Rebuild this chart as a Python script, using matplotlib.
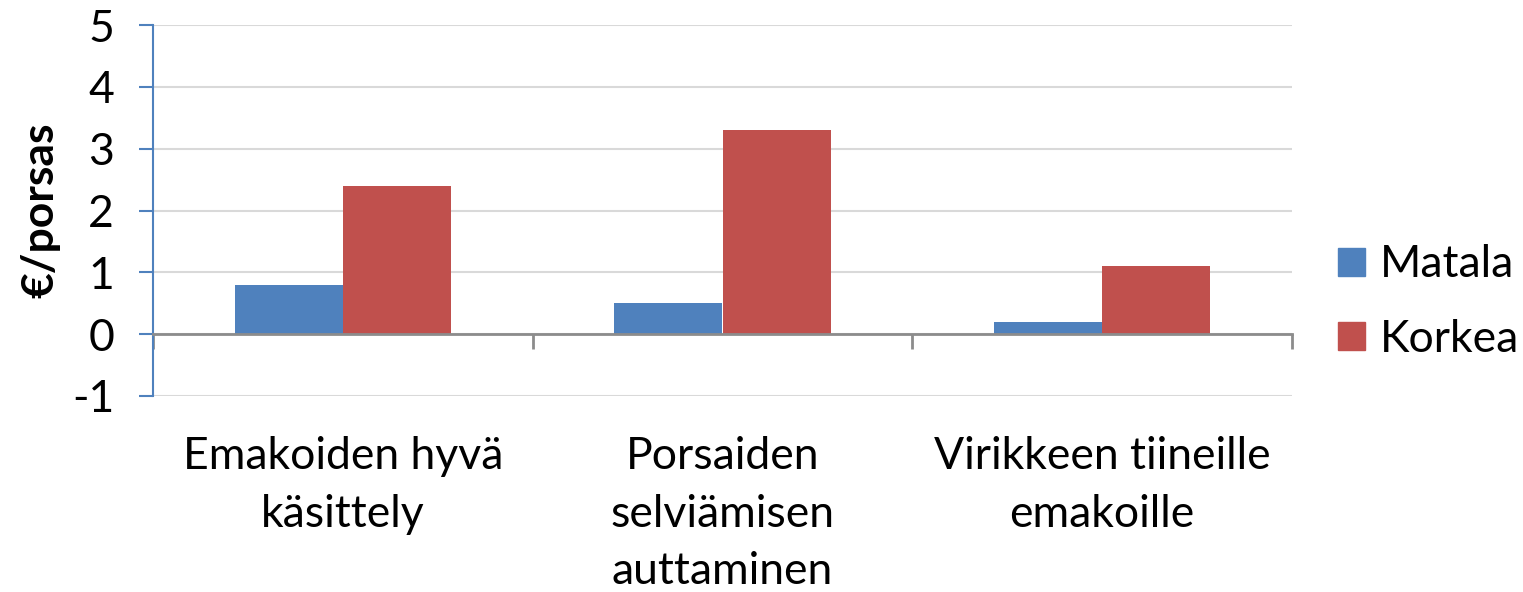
import matplotlib
matplotlib.use("Agg")
import matplotlib.pyplot as plt
import numpy as np
from matplotlib.patches import Patch

plt.rcParams['font.family'] = ['Lato', 'DejaVu Sans']
plt.rcParams['axes.unicode_minus'] = False

# data
categories = ["Emakoiden hyvä\nkäsittely", "Porsaiden\nselviämisen\nauttaminen", "Virikkeen tiineille\nemakoille"]
series_names = ["Matala", "Korkea"]
matala = [0.8, 0.5, 0.2]
korkea = [2.4, 3.3, 1.1]
colors = ["#4F81BD", "#C0504D"]

FS = 32

fig = plt.figure(figsize=(15.23, 5.92), dpi=100)
ax = fig.add_axes([153 / 1523, 1 - 396 / 592, (1292 - 153) / 1523, (396 - 25) / 592])

x = np.arange(len(categories))
w = 0.285
ax.bar(x - w / 2, matala, w, color=colors[0], label=series_names[0], zorder=3)
ax.bar(x + w / 2, korkea, w, color=colors[1], label=series_names[1], zorder=3)

ax.set_xlim(-0.5, len(categories) - 0.5)
ax.set_ylim(-1, 5)
ax.set_yticks(range(-1, 6))
ax.yaxis.grid(True, color="#D9D9D9", linewidth=1.5, zorder=0)

# spines
for s in ["top", "right"]:
    ax.spines[s].set_visible(False)
ax.spines["left"].set_color("#4F81BD")
ax.spines["left"].set_linewidth(1.5)
ax.spines["bottom"].set_position(("data", 0))
ax.spines["bottom"].set_color("#8C8C8C")
ax.spines["bottom"].set_linewidth(2)
ax.spines["bottom"].set_zorder(4)

ax.tick_params(axis="y", length=10, width=1.5, color="#4F81BD", labelsize=FS, pad=18)
ax.set_xticks(np.arange(-0.5, len(categories), 1.0))
ax.set_xticklabels([])
ax.tick_params(axis="x", length=11, width=2, color="#8C8C8C", direction="out")

# category labels at the bottom of the plot area
sec = ax.secondary_xaxis("bottom")
sec.set_xticks(x)
sec.set_xticklabels(categories, fontsize=FS, linespacing=1.5)
sec.tick_params(length=0, pad=29)
sec.spines["bottom"].set_visible(False)

ax.set_ylabel("€/porsas", fontsize=FS, fontweight="bold", labelpad=8)

handles = [Patch(color=c, label=n) for c, n in zip(colors, series_names)]
fig.legend(handles=handles, loc="center left", bbox_to_anchor=(1338 / 1523, 1 - 302 / 592),
           frameon=False, fontsize=FS, handlelength=0.6, handleheight=0.6,
           handletextpad=0.35, labelspacing=0.75, borderpad=0, borderaxespad=0)

fig.savefig("out.png", dpi=100)
